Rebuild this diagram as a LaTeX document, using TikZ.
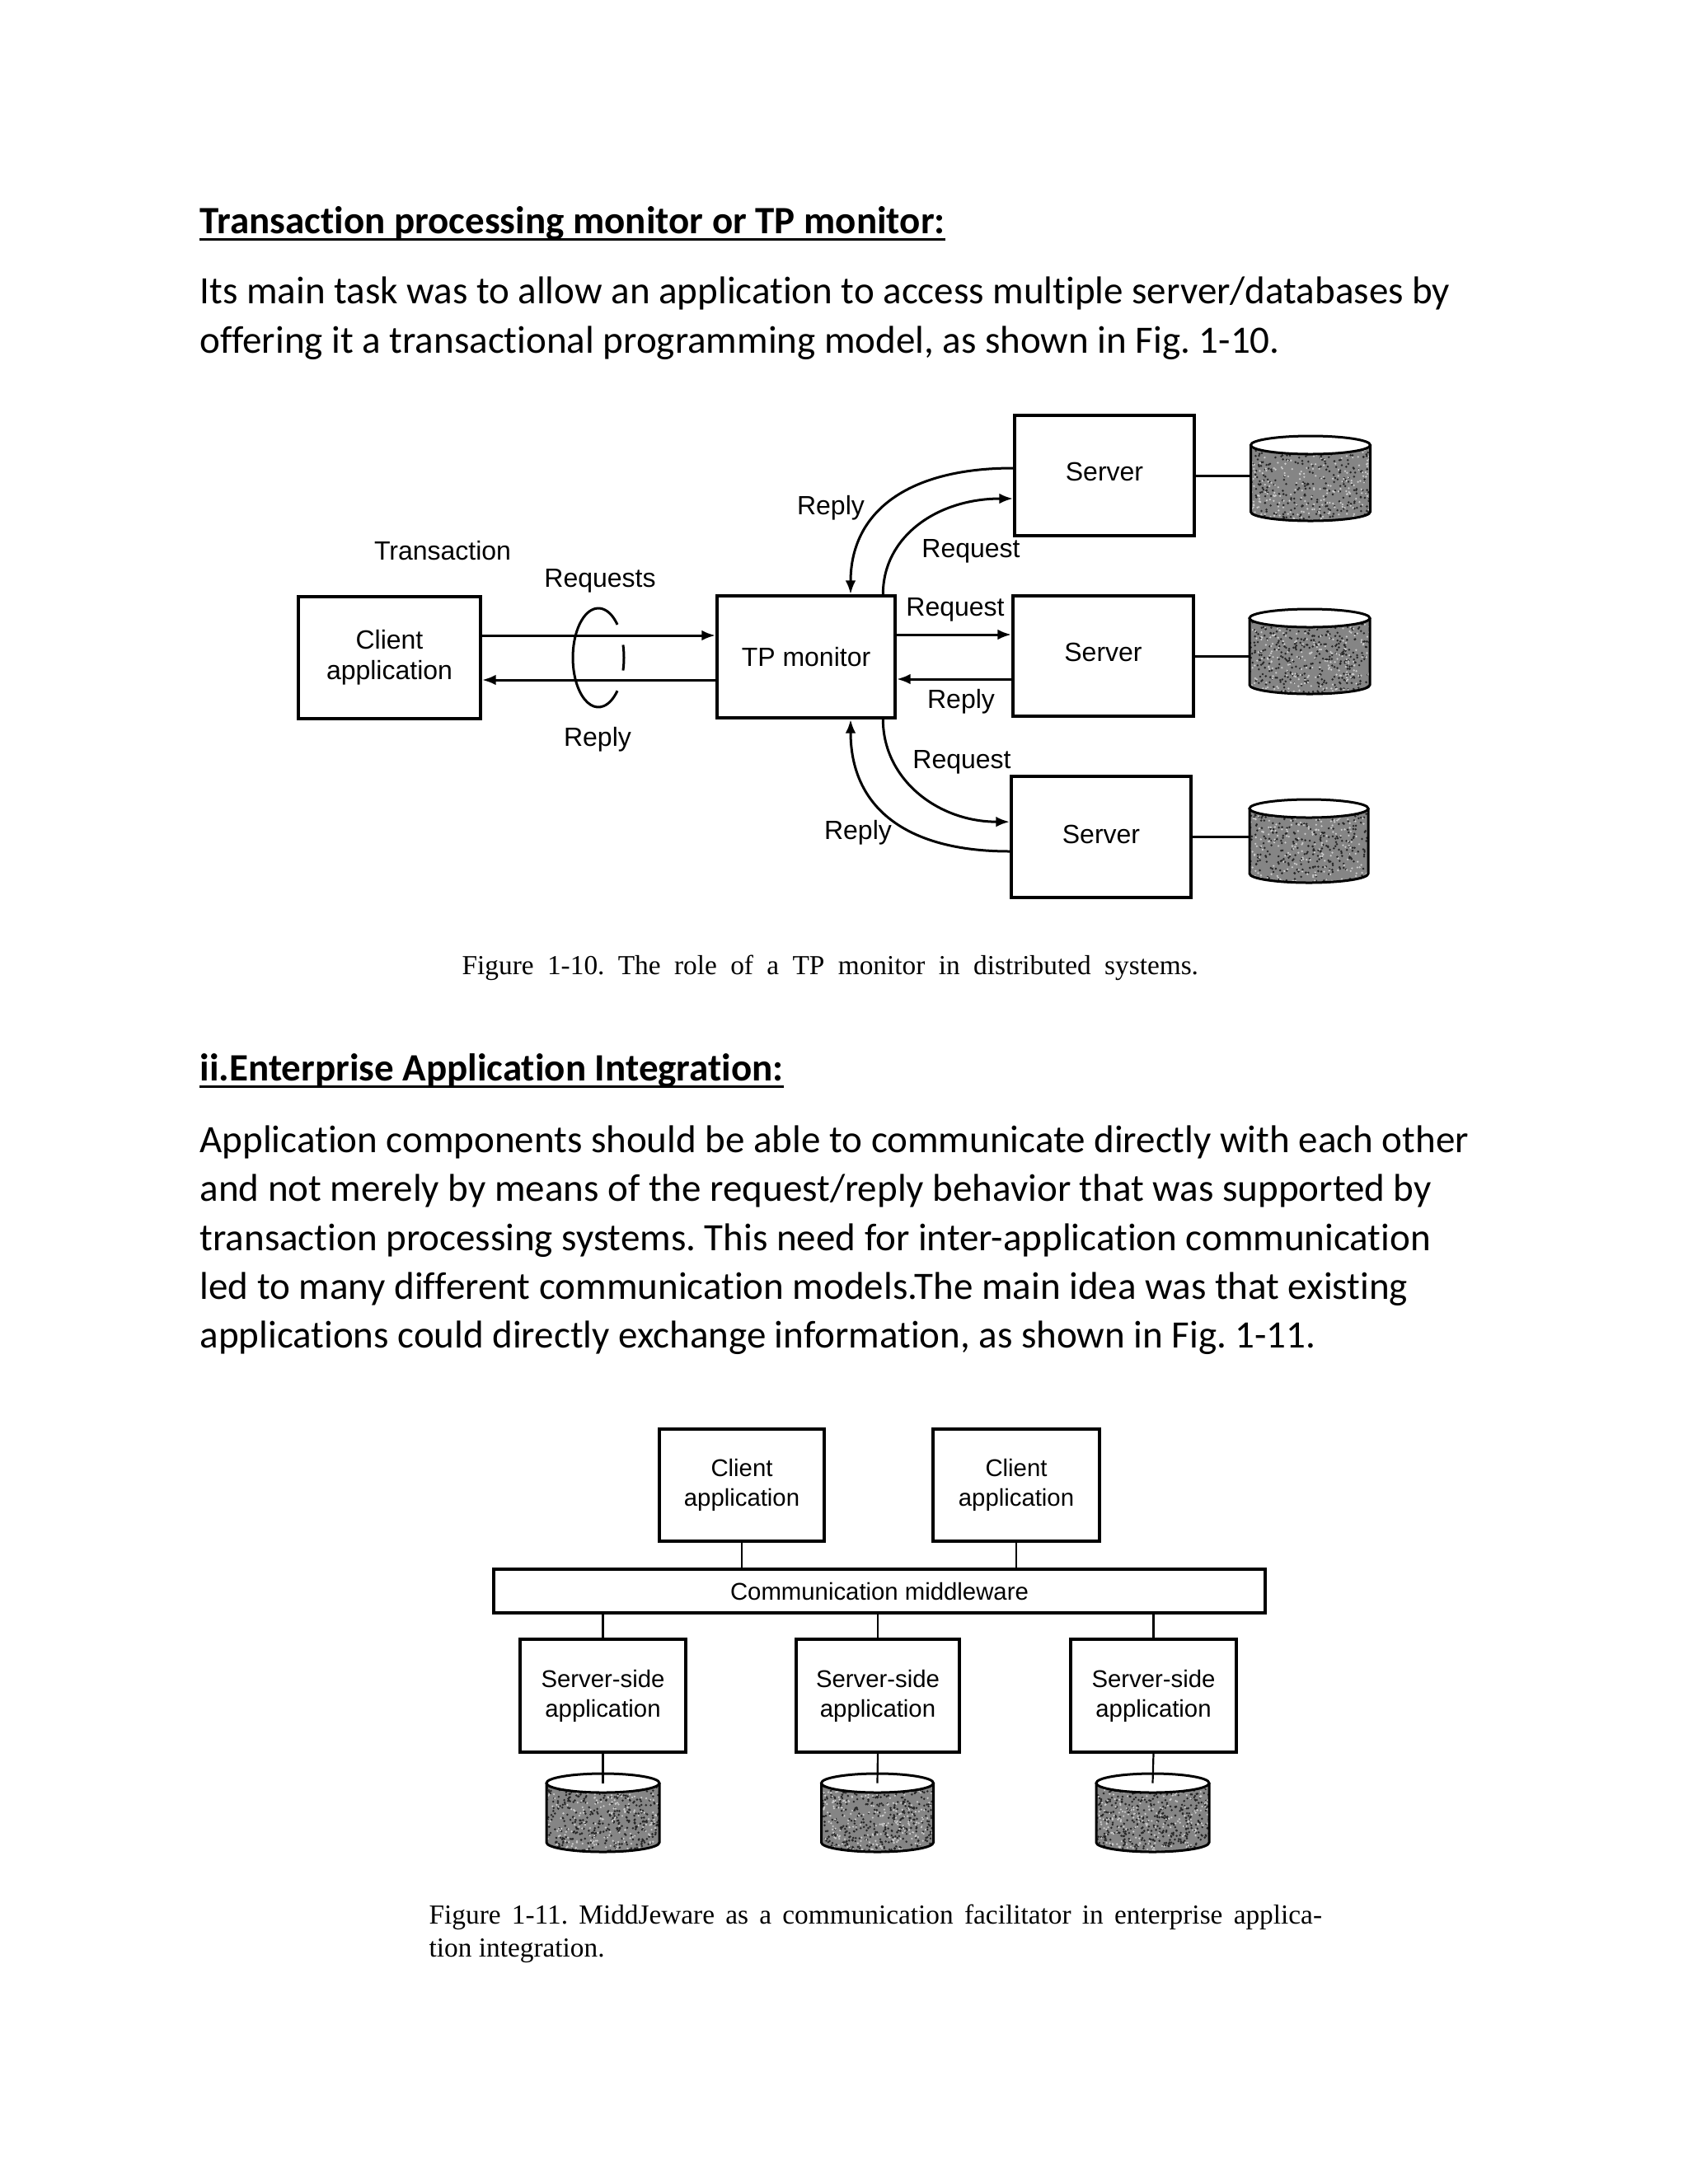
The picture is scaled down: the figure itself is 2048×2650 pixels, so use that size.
\documentclass[tikz,border=0pt]{standalone}
\usepackage{fontspec}
\setmainfont{Carlito}[Ligatures={NoCommon}]
\newfontfamily\figfont{Liberation Sans}
\newfontfamily\capfont{Liberation Serif}
\usetikzlibrary{arrows.meta,calc}
\newlength\pxu
\setlength\pxu{0.3pt}
\colorlet{dbgray}{black!48}
\frenchspacing

% cylinder (database): #1 name, #2 centre x, #3 top y, #4 x radius, #5 y radius, #6 height, #7 dot count
\newcommand\dbcyl[7]{%
  \begin{scope}[shift={(#2,#3)}]
    \fill[dbgray] (-#4,#5) -- (-#4,{#6-#5}) .. controls (-#4,{#6-#5+0.5523*#5}) and ({-0.5523*#4},#6) .. (0,#6)
       .. controls ({0.5523*#4},#6) and (#4,{#6-#5+0.5523*#5}) .. (#4,{#6-#5}) -- (#4,#5) -- cycle;
    \begin{scope}
      \clip (-#4,#5) -- (-#4,{#6-#5}) .. controls (-#4,{#6-#5+0.5523*#5}) and ({-0.5523*#4},#6) .. (0,#6)
         .. controls ({0.5523*#4},#6) and (#4,{#6-#5+0.5523*#5}) .. (#4,{#6-#5}) -- (#4,#5) -- cycle;
      \foreach \k in {1,...,#7}{\fill[black!85] ({rand*#4},{#5+(0.5+0.5*rand)*(#6)}) circle[radius=0.42pt];}
      \foreach \k in {1,...,260}{\fill[white!80!black] ({rand*#4},{#5+(0.5+0.5*rand)*(#6)}) circle[radius=0.38pt];}
    \end{scope}
    \draw[line width=0.9pt] (-#4,#5) -- (-#4,{#6-#5}) .. controls (-#4,{#6-#5+0.5523*#5}) and ({-0.5523*#4},#6) .. (0,#6)
       .. controls ({0.5523*#4},#6) and (#4,{#6-#5+0.5523*#5}) .. (#4,{#6-#5}) -- (#4,#5);
    \filldraw[fill=white, line width=0.9pt] (0,#5) ellipse[x radius=#4, y radius=#5];
    \coordinate (#1top) at (0,#5);
  \end{scope}
  \node[inner sep=0, minimum width={2*#4*\pxu}, minimum height={#6*\pxu}] (#1) at (#2,{#3+#6/2}) {};
}

\tikzset{
  bodytext/.style={anchor=base west, inner sep=0, font=\fontsize{14.1}{17}\selectfont},
  headtext/.style={anchor=base west, inner sep=0, font=\bfseries\fontsize{14.1}{17}\selectfont},
  captext/.style={anchor=base west, inner sep=0, font=\capfont\fontsize{10}{12}\selectfont},
  boxA/.style={draw, line width=1.2pt, inner sep=0, align=center, font=\figfont\fontsize{9.6}{11.1}\selectfont},
  labA/.style={inner sep=0, font=\figfont\fontsize{9.6}{11.1}\selectfont},
  arrA/.style={line width=0.9pt, -{Latex[length=5pt, width=3.8pt]}},
  connA/.style={line width=0.9pt},
  boxB/.style={draw, line width=1.05pt, inner sep=0, align=center, font=\figfont\fontsize{8.8}{10.8}\selectfont},
  connB/.style={line width=0.66pt},
}

\begin{document}
\begin{tikzpicture}[x=0.3pt, y=-0.3pt]
\pgfmathsetseed{4242}
\fill[white] (0,0) rectangle (2048,2650);
\useasboundingbox (0,0) rectangle (2048,2650);

% ---------- Section 1 text ----------
\node[headtext] (h1) at (242,283) {Transaction processing monitor or TP monitor:};
\draw[line width=0.9pt] ([yshift=-2.1pt]h1.base west) -- ([yshift=-2.1pt]h1.base east);
\node[bodytext] (p1a) at (242,368) {Its main task was to allow an application to access multiple server/databases by};
\node[bodytext] (p1b) at (242,428) {offering it a transactional programming model, as shown in Fig. 1-10.};

% ---------- Figure 1-10 ----------
\node[boxA, minimum width={221*\pxu}, minimum height={148*\pxu}] (client) at (472.5,798) {Client\\application};
\node[boxA, minimum width={216*\pxu}, minimum height={148*\pxu}] (tp) at (978,797) {TP monitor};
\node[boxA, minimum width={218*\pxu}, minimum height={146*\pxu}] (s1) at (1340,577) {\raisebox{3pt}{Server}};
\node[boxA, minimum width={219*\pxu}, minimum height={146*\pxu}] (s2) at (1338.5,796) {\raisebox{3pt}{Server}};
\node[boxA, minimum width={218*\pxu}, minimum height={147*\pxu}] (s3) at (1336,1015.5) {\raisebox{2pt}{Server}};

\dbcyl{db1}{1590}{529}{72.5}{11}{103}{330}
\dbcyl{db2}{1589}{739}{73}{11}{103}{420}
\dbcyl{db3}{1588}{970}{72}{11}{101}{330}

\draw[connA] (s1.east) -- (s1.east -| db1.west);
\draw[connA] (s2.east) -- (s2.east -| db2.west);
\draw[connA] (s3.east) -- (s3.east -| db3.west);

% client <-> TP monitor
\draw[arrA] ([yshift=8.1pt]client.east) -- ([yshift=8.1pt]client.east -| tp.west);
\draw[arrA] ([yshift=-8.1pt]client.east -| tp.west) -- ([yshift=-8.1pt]client.east);
% transaction loop
\draw[connA] (726,798) ++(318:31 and 60) arc[start angle=318, end angle=42, x radius=31, y radius=60];
\draw[connA] (726,798) ++(-15:31 and 60) arc[start angle=-15, end angle=15, x radius=31, y radius=60];

% TP monitor <-> middle server
\draw[arrA] ([yshift=8.1pt]tp.east) -- ([yshift=8.1pt]tp.east -| s2.west);
\draw[arrA] ([yshift=-8.1pt]tp.east -| s2.west) -- ([yshift=-8.1pt]tp.east);

% curved connectors
\coordinate (tpA) at ([xshift=16.2pt]tp.north);
\coordinate (tpB) at ([xshift=28pt]tp.north);
\coordinate (tpC) at ([xshift=16.2pt]tp.south);
\coordinate (tpD) at ([xshift=28pt]tp.south);
\coordinate (s1r) at ([yshift=2.7pt]s1.west);
\coordinate (s1q) at ([yshift=-8.4pt]s1.west);
\coordinate (s3q) at ([yshift=5.5pt]s3.west);
\coordinate (s3r) at ([yshift=-5.25pt]s3.west);
\draw[arrA] (s1r) .. controls +(-128,0) and +(0,-100) .. (tpA);
\draw[arrA] (tpB) .. controls +(0,-70) and +(-92,0) .. (s1q);
\draw[arrA] (tpD) .. controls +(0,72) and +(-88,0) .. (s3q);
\draw[arrA] (s3r) .. controls +(-127,0) and +(0,106) .. (tpC);

% labels
\node[labA] (lTrans) at (537,668) {Transaction};
\node[labA] (lReqs) at (728,705) {Requests};
\node[labA] (lRep0) at (725,897) {Reply};
\node[labA] (lRep1) at (1008,616) {Reply};
\node[labA] (lReq1) at (1178,669) {Request};
\node[labA] (lReq2) at (1159,740) {Request};
\node[labA] (lRep2) at (1166,851) {Reply};
\node[labA] (lReq3) at (1167,925) {Request};
\node[labA] (lRep3) at (1041,1010) {Reply};

\node[captext] (cap1) at (560,1182) {\makebox[268pt][s]{Figure 1-10. The role of a TP monitor in distributed systems.}};

% ---------- Section 2 text ----------
\node[headtext] (h2) at (242,1311) {ii.Enterprise Application Integration:};
\draw[line width=0.9pt] ([yshift=-2.1pt]h2.base west) -- ([yshift=-2.1pt]h2.base east);
\node[bodytext] (p2a) at (242,1398) {Application components should be able to communicate directly with each other};
\node[bodytext] (p2b) at (242,1457) {and not merely by means of the request/reply behavior that was supported by};
\node[bodytext] (p2c) at (242,1517) {transaction processing systems. This need for inter-application communication};
\node[bodytext] (p2d) at (242,1576) {led to many different communication models.The main idea was that existing};
\node[bodytext] (p2e) at (242,1635) {applications could directly exchange information, as shown in Fig. 1-11.};

% ---------- Figure 1-11 ----------
\node[boxB, minimum width={200*\pxu}, minimum height={136*\pxu}] (c1) at (900,1802) {Client\\application};
\node[boxB, minimum width={202*\pxu}, minimum height={136*\pxu}] (c2) at (1233,1802) {Client\\application};
\node[boxB, minimum width={936*\pxu}, minimum height={53*\pxu}] (mw) at (1067,1930.5) {Communication middleware};
\node[boxB, minimum width={201*\pxu}, minimum height={137*\pxu}] (sa1) at (731.5,2057.5) {Server-side\\application};
\node[boxB, minimum width={198*\pxu}, minimum height={137*\pxu}] (sa2) at (1065,2057.5) {Server-side\\application};
\node[boxB, minimum width={201*\pxu}, minimum height={137*\pxu}] (sa3) at (1399.5,2057.5) {Server-side\\application};

\dbcyl{d1}{731.5}{2152}{68.5}{11.5}{95}{480}
\dbcyl{d2}{1064.5}{2152}{68}{11.5}{95}{460}
\dbcyl{d3}{1398.5}{2152}{68.5}{11.5}{95}{520}

\draw[connB] (c1.south) -- (c1.south |- mw.north);
\draw[connB] (c2.south) -- (c2.south |- mw.north);
\draw[connB] (mw.south -| sa1.north) -- (sa1.north);
\draw[connB] (mw.south -| sa2.north) -- (sa2.north);
\draw[connB] (mw.south -| sa3.north) -- (sa3.north);
\draw[connB] (sa1.south) -- (d1top);
\draw[connB] (sa2.south) -- (d2top);
\draw[connB] (sa3.south) -- (d3top);

\node[captext] (cap2a) at (520,2334) {\makebox[325pt][s]{Figure 1-11. MiddJeware as a communication facilitator in enterprise applica-}};
\node[captext] (cap2b) at (520,2374) {tion integration.};
\end{tikzpicture}
\end{document}
